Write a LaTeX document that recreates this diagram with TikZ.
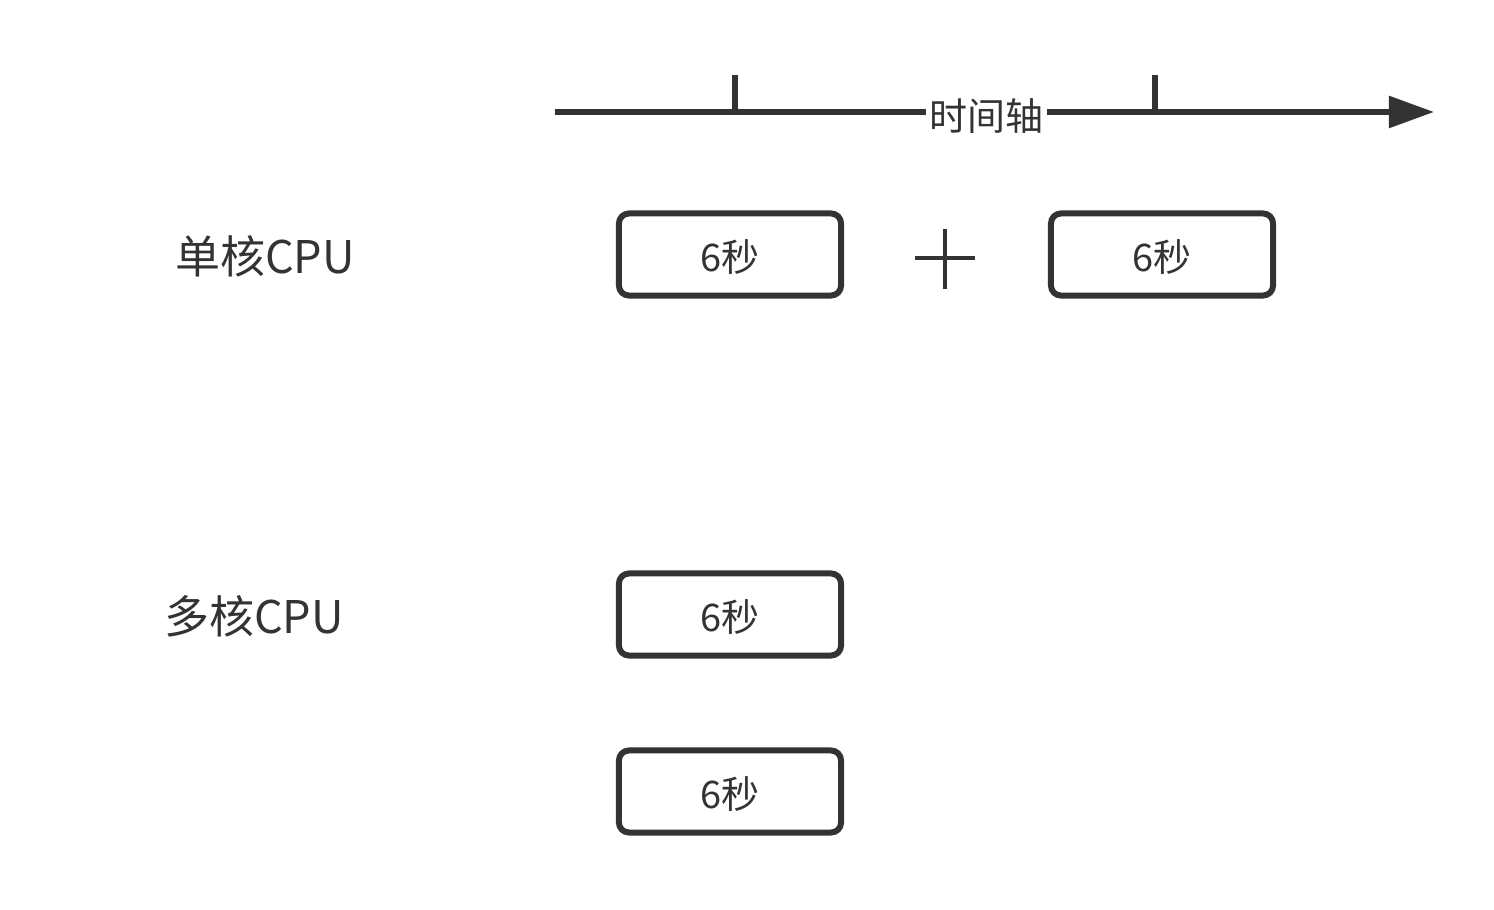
\documentclass[tikz,border=0pt]{standalone}
\usepackage{fontspec}
\usepackage{tikz}
\usetikzlibrary{arrows.meta}
\setmainfont{Noto Sans CJK SC}
\definecolor{ink}{HTML}{333333}
\newcommand{\secs}[1]{\raisebox{-4.9pt}[0pt][0pt]{#1}}

\begin{document}
\begin{tikzpicture}[
	  x=0.01cm, y=-0.01cm,
	  task/.style={draw=ink, line width=1.7pt, rounded corners=0.1cm,
	    minimum width=2.22cm, minimum height=0.82cm, inner sep=0pt,
	    text=ink, font=\fontsize{10.8pt}{12pt}\selectfont},
	  cpu/.style={text=ink, font=\fontsize{12.8pt}{15pt}\selectfont},
	  axis/.style={draw=ink, line width=1.6pt},
	]
	\useasboundingbox (0,0) rectangle (1494,910);

	% time axis
	\coordinate (t0) at (555,112);
	\coordinate (t1) at (1434,112);
	\draw [axis, -{Triangle[length=0.45cm, width=0.31cm]}] (t0) -- (t1);
	\draw [axis] (735,75) -- (735,112);
	\draw [axis] (1155,75) -- (1155,112);
	\node [fill=white, inner sep=1pt, text=ink,
	  font=\fontsize{10.8pt}{12pt}\selectfont] (tl) at (986,116) {时间轴};

	% single core
	\node [cpu] (single) at (265,256) {单核CPU};
	\node [task] (s1) at (730,254.5) {\secs{6秒}};
	\node [task] (s2) at (1162,254.5) {\secs{6秒}};
	\draw [draw=ink, line width=1.4pt] (915,258) -- (975,258);
	\draw [draw=ink, line width=1.4pt] (945,229) -- (945,289);

	% multi core
	\node [cpu] (multi) at (254,616) {多核CPU};
	\node [task] (m1) at (730,614.5) {\secs{6秒}};
	\node [task] (m2) at (730,791.5) {\secs{6秒}};
\end{tikzpicture}
\end{document}
